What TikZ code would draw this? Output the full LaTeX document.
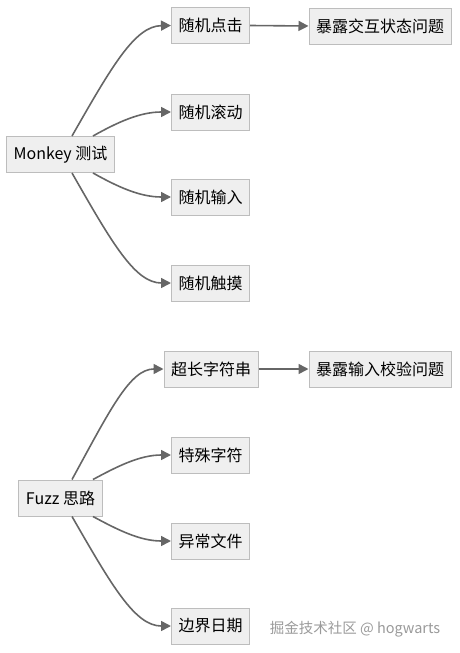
\documentclass[tikz,border=0pt]{standalone}
\usepackage{fontspec}
\setmainfont{Noto Sans CJK SC}
\usetikzlibrary{arrows.meta,calc}
\definecolor{boxfill}{HTML}{EFEFEF}
\definecolor{boxline}{HTML}{BDBDBD}
\definecolor{edgecol}{HTML}{666666}
\definecolor{wmcol}{HTML}{9A9A9A}
\tikzset{
  box/.style={draw=boxline, fill=boxfill, line width=1pt, inner xsep=7pt, inner ysep=0pt,
    minimum height=36pt, font=\fontsize{16}{18}\selectfont, text=black, anchor=center},
  link/.style={draw=edgecol, line width=1.6pt, -{Triangle[length=10pt,width=10pt]}},
}
\begin{document}
\begin{tikzpicture}[x=1pt,y=-1pt]
\useasboundingbox (0,0) rectangle (459,653);
% group 1
\node[box] (m) at (60.5,154.5) {Monkey 测试};
\node[box] (a1) at (210.5,25.5) {随机点击};
\node[box] (a1r) at (380,26) {暴露交互状态问题};
\node[box] (a2) at (210.5,112) {随机滚动};
\node[box] (a3) at (210.5,197) {随机输入};
\node[box] (a4) at (210.5,283) {随机触摸};
% group 2
\node[box] (f) at (60.5,498) {Fuzz 思路};
\node[box] (b1) at (211,369) {超长字符串};
\node[box] (b1r) at (380,369) {暴露输入校验问题};
\node[box] (b2) at (210.5,455) {特殊字符};
\node[box] (b3) at (210.5,541) {异常文件};
\node[box] (b4) at (210.5,626) {边界日期};
% edges group 1
\draw[link] ($(m.north)+(11.5,0)$) .. controls (112,66) and (135,26) .. (a1.west);
\draw[link] ($(m.north)+(32.5,0)$) .. controls (118,122) and (140,112) .. (a2.west);
\draw[link] ($(m.south)+(32.5,0)$) .. controls (118,187) and (140,197) .. (a3.west);
\draw[link] ($(m.south)+(11.5,0)$) .. controls (112,243) and (135,283) .. (a4.west);
\draw[link] (a1.east) -- (a1r.west);
% edges group 2
\draw[link] ($(f.north)+(11.5,0)$) .. controls (110,410) and (130,369) .. (b1.west);
\draw[link] ($(f.north)+(32.5,0)$) .. controls (118,466) and (140,455) .. (b2.west);
\draw[link] ($(f.south)+(32.5,0)$) .. controls (118,530) and (140,541) .. (b3.west);
\draw[link] ($(f.south)+(11.5,0)$) .. controls (112,586) and (135,626) .. (b4.west);
\draw[link] (b1.east) -- (b1r.west);
% watermark
\node[font=\fontsize{14.5}{16}\selectfont, text=wmcol] (wm) at (355,629) {掘金技术社区 @ hogwarts};
\end{tikzpicture}
\end{document}
